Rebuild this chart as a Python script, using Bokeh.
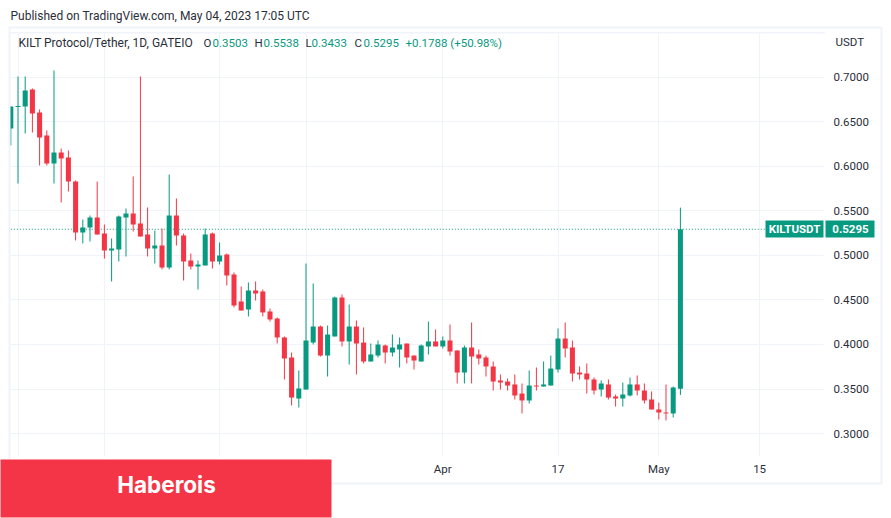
from bokeh.plotting import figure
from bokeh.models import (ColumnDataSource, Range1d, FixedTicker, BoxAnnotation, Label, NumeralTickFormatter)
from bokeh.embed import file_html
from bokeh.resources import INLINE

open_ = [.6427,.6669,.6674,.6865,.6607,.6348,.6034,.6157,.6101,.5831,.5258,.5315,.5427,.5247,.5056,.5067,.5427,.5472,.5360,.5236,.5079,.5112,.4865,.5449,.5225,.4944,.4876,.4888,.5247,.4933,.5011,.4787,.4483,.4393,.4607,.4596,.4371,.4292,.4079,.3854,.3393,.3494,.4022,.4202,.3876,.4090,.4528,.4034,.4202,.4022,.3809,.3876,.3989,.3910,.3944,.4011,.3876,.3809,.3978,.4034,.3978,.4045,.3933,.3685,.3966,.3888,.3854,.3753,.3596,.3584,.3551,.3449,.3371,.3539,.3528,.3539,.3719,.4067,.3966,.3685,.3674,.3607,.3494,.3551,.3416,.3393,.3427,.3551,.3483,.3382,.3270,.3236,.3225,.3503]
high = [.6674,.7011,.7011,.6876,.6640,.6404,.7079,.6202,.6180,.5843,.5404,.5449,.5831,.5348,.5191,.5449,.5528,.5888,.7011,.5539,.5281,.5303,.5910,.5640,.5247,.5022,.4944,.5303,.5258,.5146,.5022,.4809,.4652,.4697,.4708,.4618,.4404,.4303,.4090,.3910,.3708,.4910,.4685,.4213,.4213,.4539,.4562,.4449,.4270,.4191,.4011,.4045,.4000,.4112,.4079,.4011,.3876,.4000,.4258,.4169,.4090,.4225,.3933,.3989,.4247,.3944,.3876,.3809,.3663,.3618,.3663,.3562,.3708,.3742,.3809,.3876,.4180,.4247,.4045,.3753,.3787,.3629,.3596,.3607,.3438,.3573,.3629,.3652,.3562,.3472,.3348,.3551,.3528,.5538]
low = [.6236,.5809,.6371,.6382,.6011,.6011,.5809,.5596,.5719,.5169,.5135,.5157,.5236,.4966,.4708,.4933,.4989,.5270,.5213,.4989,.4910,.4843,.4843,.5112,.4719,.4843,.4618,.4888,.4854,.4899,.4663,.4416,.4382,.4315,.4494,.4315,.4258,.4011,.3607,.3315,.3292,.3494,.4000,.3865,.3640,.4090,.3978,.3775,.3663,.3787,.3809,.3854,.3787,.3865,.3742,.3787,.3719,.3809,.3888,.3978,.3955,.3876,.3562,.3562,.3562,.3775,.3640,.3483,.3494,.3483,.3382,.3225,.3337,.3483,.3528,.3539,.3685,.3854,.3584,.3607,.3449,.3438,.3416,.3382,.3303,.3303,.3416,.3427,.3337,.3270,.3157,.3146,.3180,.3433]
close = [.6674,.6680,.6854,.6596,.6326,.6034,.6157,.6090,.5831,.5258,.5315,.5427,.5236,.5056,.5079,.5438,.5472,.5348,.5213,.5079,.5112,.4865,.5449,.5225,.4933,.4876,.4899,.5236,.4933,.5000,.4775,.4438,.4382,.4607,.4573,.4360,.4281,.4079,.3843,.3404,.3506,.4045,.4202,.3876,.4112,.4528,.4034,.4202,.4011,.3809,.3888,.4000,.3910,.3966,.4000,.3854,.3820,.3989,.4034,.3978,.4045,.3921,.3685,.3966,.3865,.3843,.3753,.3584,.3573,.3539,.3427,.3371,.3539,.3528,.3551,.3730,.4067,.3955,.3674,.3663,.3607,.3483,.3562,.3404,.3393,.3438,.3551,.3483,.3371,.3270,.3236,.3225,.3517,.5295]

price_ticks = [.30,.35,.40,.45,.50,.55,.60,.65,.70]
time_ticks = [1,13,29,41,60,76,90,104]
time_labels = ["","","","","Apr","17","May","15"]
last_price = .5295

GREEN, RED, GRID, INK = "#089981", "#f23645", "#f0f3fa", "#2a2e39"
FONT = "Roboto"
W, H = 891, 518

# pane limits, in data units (the frame fills the whole picture)
X0, X1 = -1.4306, 122.319
Y0, Y1 = 0.2045, 0.7865
PANE_L, PANE_R = -0.04, 113.03
PANE_B, PANE_T = 0.2742, 0.7506

days = list(range(len(open_)))
src = ColumnDataSource(dict(
    x=days, h=high, l=low,
    color=[GREEN if c >= o else RED for o, c in zip(open_, close)],
    top=[max(o, c) for o, c in zip(open_, close)],
    bot=[min(o, c) for o, c in zip(open_, close)],
))

p = figure(width=W, height=H, output_backend="svg", toolbar_location=None,
           x_range=Range1d(X0, X1), y_range=Range1d(Y0, Y1),
           x_axis_location="below", y_axis_location="right",
           min_border=0, outline_line_color=None,
           background_fill_color="white", border_fill_color="white")
p.styles = {"position": "absolute", "left": "0px", "top": "0px"}

for ax, ticks in ((p.xaxis[0], time_ticks), (p.yaxis[0], price_ticks)):
    ax.ticker = FixedTicker(ticks=ticks)
    ax.axis_line_color = None
    ax.major_tick_line_color = None
    ax.minor_tick_line_color = None
    ax.major_tick_out = 0
    ax.major_tick_in = 0
    ax.major_label_text_font = FONT
    ax.major_label_text_font_size = "11.5px"
    ax.major_label_text_color = INK
p.xaxis[0].fixed_location = PANE_B
p.yaxis[0].fixed_location = PANE_R
p.xaxis[0].major_label_overrides = dict(zip(time_ticks, time_labels))
p.xaxis[0].major_label_standoff = 6
p.yaxis[0].formatter = NumeralTickFormatter(format="0.0000")
p.yaxis[0].major_label_standoff = 9
p.grid.grid_line_color = GRID
p.grid.grid_line_width = 1
p.xgrid[0].cross_bounds = (PANE_B, PANE_T)
p.ygrid[0].cross_bounds = (PANE_L, PANE_R)

p.segment(x0=[days[0]], x1=[106], y0=[last_price], y1=[last_price], line_color=GREEN, line_width=1, line_dash="1 2")
p.segment("x", "h", "x", "l", source=src, line_color="color", line_width=1)
p.vbar("x", width=0.7, top="top", bottom="bot", source=src, fill_color="color", line_color=None)

# canvas y measured from the top of the picture
def box(x0, x1, y0, y1, **kw):
    p.add_layout(BoxAnnotation(left=x0, right=x1, top=y0, bottom=y1, left_units="canvas", right_units="canvas",
                               top_units="canvas", bottom_units="canvas", level="overlay", **kw))

def text(x, y, s, color=INK, size="12px", weight="normal", align="left", font=FONT):
    p.add_layout(Label(x=x, y=y, text=s, x_units="canvas", y_units="canvas", text_color=color,
                       text_font=font, text_font_size=size, text_font_style=weight, text_align=align,
                       text_baseline="middle", level="overlay"))

box(0, 9, 27, 483, fill_color="white", fill_alpha=1, line_color=None, line_width=0)
box(9, 881, 27, 483, fill_alpha=0, line_color=GRID, line_alpha=1, line_width=2)
box(10, 824, 32, 32.5, fill_color=GRID, fill_alpha=1, line_color=GRID, line_alpha=1, line_width=1)

text(10, 15, "Published on TradingView.com, May 04, 2023 17:05 UTC")
text(18, 42, "KILT Protocol/Tether, 1D, GATEIO")
for x, s, c in [(203, "O", INK), (212, "0.3503", GREEN), (254, "H", INK), (263, "0.5538", GREEN),
                (305, "L", INK), (311, "0.3433", GREEN), (354, "C", INK), (363, "0.5295", GREEN),
                (405, "+0.1788 (+50.98%)", GREEN)]:
    text(x, 42, s, color=c, size="11.5px")
text(835, 41, "USDT", size="11.5px")

box(765, 823, 220, 237, fill_color=GREEN, fill_alpha=1, line_width=0, line_color=None)
box(825, 874, 220, 237, fill_color=GREEN, fill_alpha=1, line_width=0, line_color=None)
text(794, 228.5, "KILTUSDT", color="white", weight="bold", align="center", size="11.5px")
text(850, 228.5, "0.5295", color="white", weight="bold", align="center", size="11.5px")

box(-3, 331, 459, 517, fill_color="#f43547", fill_alpha=1, line_width=0, line_color=None)
text(166, 484, "Haberois", color="white", size="22.5px", weight="bold", align="center", font="Inter")

open("out.html", "w").write(file_html(p, INLINE))
